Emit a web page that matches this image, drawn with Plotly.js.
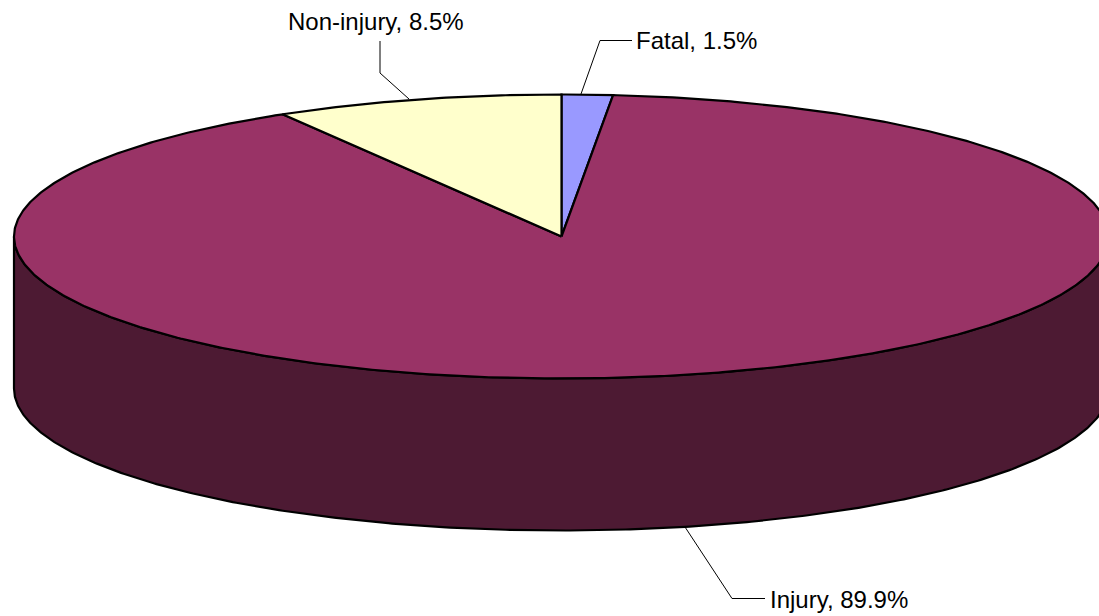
<!DOCTYPE html>
<html>
<head>
<meta charset="utf-8">
<script src="https://cdn.plot.ly/plotly-3.0.1.min.js"></script>
<style>html,body{margin:0;padding:0;background:#fff}#chart{width:1099px;height:616px}</style>
</head>
<body>
<div id="chart"></div>
<script>
const categories = ["Fatal", "Injury", "Non-injury"];
const shares = [1.5, 89.9, 8.5];
const topColors = ["#9999FF", "#993366", "#FFFFCC"];
const sideColor = "#4D1A33";
const labelFont = "Liberation Sans, Arial, sans-serif";

// Pie projection, in pixels of the page
const cx = 561.5, cy = 236.5, rx = 547.5, ry = 142, depth = 152;
const total = shares.reduce((a, b) => a + b, 0);
const px = t => cx + rx * Math.sin(t);
const py = t => cy - ry * Math.cos(t);
const span = (a, b, n) => Array.from({length: n + 1}, (_, i) => a + (b - a) * i / n);

const traces = [];
// Side wall: the front half of the rim, dropped by the depth
const front = span(Math.PI / 2, Math.PI * 1.5, 400);
traces.push({
  type: "scatter", mode: "lines", fill: "toself", fillcolor: sideColor,
  x: front.map(px).concat(front.slice().reverse().map(px)),
  y: front.map(py).concat(front.slice().reverse().map(t => py(t) + depth)),
  line: {color: "#000", width: 2.2}, hoverinfo: "skip"
});
// Top face wedges
let acc = 0;
shares.forEach((v, i) => {
  const a0 = acc / total * 2 * Math.PI;
  acc += v;
  const a1 = acc / total * 2 * Math.PI;
  const arc = span(a0, a1, Math.max(8, Math.ceil(v * 8)));
  traces.push({
    type: "scatter", mode: "lines", fill: "toself", fillcolor: topColors[i],
    name: categories[i],
    x: [cx].concat(arc.map(px), [cx]),
    y: [cy].concat(arc.map(py), [cy]),
    line: {color: "#000", width: 2.2}, hoverinfo: "skip"
  });
});
// Leader lines from each label to its slice
const leaders = [
  {x: [581, 600, 632], y: [94, 40.5, 40.5]},
  {x: [380, 380, 409], y: [41, 73, 99]},
  {x: [685, 732, 765], y: [527, 598.5, 598.5]}
];
leaders.forEach(l => traces.push({
  type: "scatter", mode: "lines", x: l.x, y: l.y,
  line: {color: "#000", width: 1}, hoverinfo: "skip"
}));

const pct = i => categories[i] + ", " + shares[i].toFixed(1) + "%";
const labelAt = [[634, 40], [286, 21], [767.5, 599]];
const annotations = labelAt.map((p, k) => {
  const i = [0, 2, 1][k];
  return {
    x: p[0], y: p[1], xref: "x", yref: "y", xanchor: "left", yanchor: "middle",
    text: pct(i), showarrow: false, align: "left",
    font: {family: labelFont, size: 24, color: "#000"}
  };
});

const hidden = {visible: false, fixedrange: true, zeroline: false, showgrid: false};
Plotly.newPlot("chart", traces, {
  width: 1099, height: 616, margin: {l: 0, r: 0, t: 0, b: 0, pad: 0},
  paper_bgcolor: "#fff", plot_bgcolor: "#fff", showlegend: false, hovermode: false,
  xaxis: Object.assign({range: [0, 1099]}, hidden),
  yaxis: Object.assign({range: [616, 0]}, hidden),
  annotations: annotations
}, {displayModeBar: false, staticPlot: true});
</script>
</body>
</html>
